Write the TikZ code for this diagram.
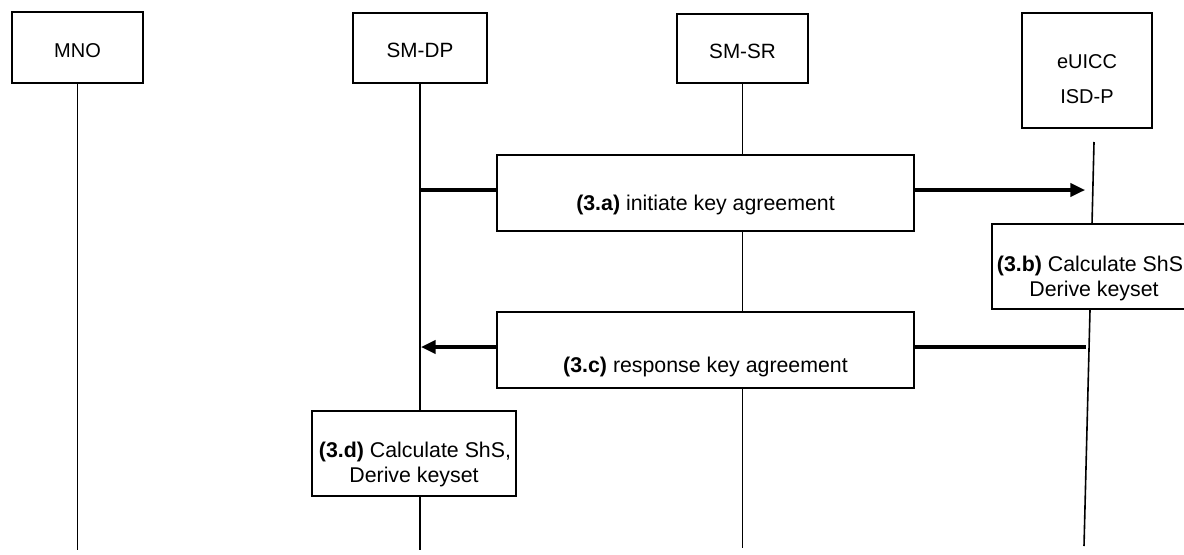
\documentclass[tikz,border=0pt]{standalone}
\usepackage{fontspec}
\setmainfont{Liberation Sans}
\usetikzlibrary{arrows.meta,calc}
\begin{document}
\begin{tikzpicture}[x=0.75pt,y=-0.75pt,
  box/.style={draw=black,line width=1.4pt,fill=white,inner sep=0pt},
  life/.style={draw=black,line width=1.2pt},
  msg/.style={draw=black,line width=2.3pt},
  tip/.style={-{Triangle[length=11pt,width=10pt]}},
  hdr/.style={font=\fontsize{15.5}{18}\selectfont,anchor=base,inner sep=0pt},
  smallhdr/.style={font=\fontsize{15}{17}\selectfont,anchor=base,inner sep=0pt},
  lbl/.style={font=\fontsize{16}{19}\selectfont,anchor=base,inner sep=0pt}]
\useasboundingbox (0,0) rectangle (1184,554);
\begin{scope}
\clip (0,0) rectangle (1184,554);
% header boxes
\node[box,minimum width=98.25pt,minimum height=53.25pt] (mno) at (77.5,47.5) {};
\node[box,minimum width=100.5pt,minimum height=52.5pt] (smdp) at (420,48) {};
\node[box,minimum width=98.25pt,minimum height=51.75pt] (smsr) at (742.5,48.5) {};
\node[box,minimum width=97.5pt,minimum height=86.25pt] (euicc) at (1087,70.5) {};
\node[smallhdr] (tmno) at (77.5,57) {MNO};
\node[hdr] (tsmdp) at (420,57) {SM-DP};
\node[hdr] (tsmsr) at (742.5,58) {SM-SR};
\node[smallhdr] (teuicc) at (1087,68) {eUICC};
\node[smallhdr] (tisdp) at (1087,103) {ISD-P};
% step boxes
\node[box,minimum width=312.75pt,minimum height=57pt] (b3a) at (705.5,193) {};
\node[box,minimum width=312.75pt,minimum height=57pt] (b3c) at (705.5,350) {};
\node[box,minimum width=154.5pt,minimum height=63.75pt] (b3b) at (1095,266.5) {};
\node[box,minimum width=153pt,minimum height=63.75pt] (b3d) at (414,453.5) {};
\node[lbl] (t3a) at (705.5,210) {\textbf{(3.a)} initiate key agreement};
\node[lbl] (t3c) at (705.5,372) {\textbf{(3.c)} response key agreement};
\node[lbl] (t3b1) at (1090,271) {\textbf{(3.b)} Calculate ShS};
\node[lbl] (t3b2) at (1094,296) {Derive keyset};
\node[lbl] (t3d1) at (415,457) {\textbf{(3.d)} Calculate ShS,};
\node[lbl] (t3d2) at (414,482) {Derive keyset};
% lifelines
\coordinate (mnoend) at (77.5,550);
\coordinate (smdpend) at (420,550);
\coordinate (smsrend) at (742.5,548);
\coordinate (e1) at (1094,142);
\coordinate (e2) at (1092,224);
\coordinate (e3) at (1090,310);
\coordinate (e4) at (1084,546);
\draw[life] (mno.south) -- (mnoend);
\draw[life] (smdp.south) -- (smdp.south |- b3d.north);
\draw[life] (smdp.south |- b3d.south) -- (smdpend);
\draw[life] (smsr.south) -- (smsr.south |- b3a.north);
\draw[life] (smsr.south |- b3a.south) -- (smsr.south |- b3c.north);
\draw[life] (smsr.south |- b3c.south) -- (smsrend);
\draw[life] (e1) -- (e2);
\draw[life] (e3) -- (e4);
% messages
\coordinate (a1) at (420,190);
\coordinate (a2) at (1085,190);
\coordinate (c1) at (1086,347);
\coordinate (c2) at (421,347);
\draw[msg] (a1) -- (a1 -| b3a.west);
\draw[msg,tip] (a1 -| b3a.east) -- (a2);
\draw[msg] (c1) -- (c1 -| b3c.east);
\draw[msg,tip] (c1 -| b3c.west) -- (c2);
\end{scope}
\end{tikzpicture}
\end{document}
